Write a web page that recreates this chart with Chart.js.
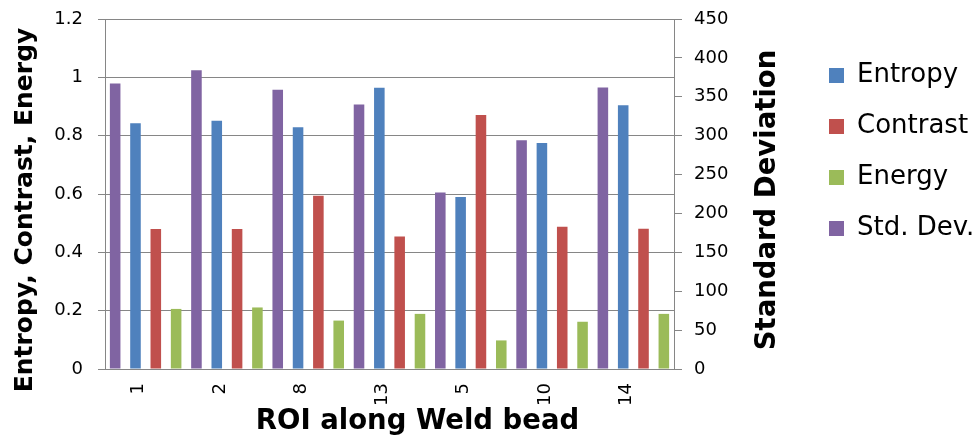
<!DOCTYPE html>
<html>
<head>
<meta charset="utf-8">
<script src="https://cdn.jsdelivr.net/npm/chart.js@4.4.1/dist/chart.umd.min.js"></script>
<style>
  html, body { margin: 0; padding: 0; background: #ffffff; }
  canvas { display: block; }
</style>
</head>
<body>
<canvas id="chart" width="978" height="439"></canvas>
<script>
// ---- data ----
const categories = ['1', '2', '8', '13', '5', '10', '14'];
const entropy  = [0.843, 0.851, 0.829, 0.964, 0.590, 0.775, 0.904];
const contrast = [0.480, 0.480, 0.594, 0.454, 0.871, 0.488, 0.481];
const energy   = [0.206, 0.211, 0.166, 0.189, 0.098, 0.162, 0.189];
const stdDev   = [367, 384, 359, 340, 227, 294, 362];
const legendOrder = ['Entropy', 'Contrast', 'Energy', 'Std. Dev.'];
const xTitle = 'ROI along Weld bead';
const yTitle = 'Entropy, Contrast, Energy';
const y2Title = 'Standard Deviation';

// ---- styles ----
const FONT = '"DejaVu Sans", Verdana, sans-serif';
const GRID = '#868686';
const COLORS = { entropy: '#4F81BD', contrast: '#C0504D', energy: '#9BBB59', std: '#8064A2' };

const axisTitlePlugin = {
  id: 'axisTitles',
  afterDraw(chart) {
    const ctx = chart.ctx;
    const area = chart.chartArea;
    ctx.save();
    ctx.fillStyle = '#000';
    ctx.textAlign = 'center';
    ctx.textBaseline = 'middle';
    // left axis title
    ctx.save();
    ctx.font = 'bold 25px ' + FONT;
    ctx.translate(25, (area.top + area.bottom) / 2 + 16);
    ctx.rotate(-Math.PI / 2);
    ctx.fillText(yTitle, 0, 0);
    ctx.restore();
    // right axis title (reads bottom to top)
    ctx.save();
    ctx.font = 'bold 27.5px ' + FONT;
    ctx.translate(area.right + 94, (area.top + area.bottom) / 2 + 6);
    ctx.rotate(-Math.PI / 2);
    ctx.fillText(y2Title, 0, 0);
    ctx.restore();
    // bottom axis title
    ctx.font = 'bold 27.5px ' + FONT;
    ctx.fillText(xTitle, (area.left + area.right) / 2 + 28, area.bottom + 53);
    ctx.restore();
  }
};

new Chart(document.getElementById('chart'), {
  type: 'bar',
  data: {
    labels: categories,
    datasets: [
      { label: 'Std. Dev.', data: stdDev,   backgroundColor: COLORS.std,      yAxisID: 'y2' },
      { label: 'Entropy',   data: entropy,  backgroundColor: COLORS.entropy,  yAxisID: 'y' },
      { label: 'Contrast',  data: contrast, backgroundColor: COLORS.contrast, yAxisID: 'y' },
      { label: 'Energy',    data: energy,   backgroundColor: COLORS.energy,   yAxisID: 'y' }
    ]
  },
  options: {
    responsive: false,
    animation: false,
    devicePixelRatio: 1,
    datasets: { bar: { categoryPercentage: 1.0, barPercentage: 0.52 } },
    layout: { padding: { top: 19, left: 0, right: 0, bottom: 0 } },
    plugins: {
      tooltip: { enabled: false },
      legend: {
        position: 'right',
        align: 'start',
        maxWidth: 174,
        title: { display: true, text: ' ', padding: 0, font: { size: 10, lineHeight: '18.5px' } },
        labels: {
          boxWidth: 15,
          boxHeight: 15,
          padding: 25,
          color: '#000',
          font: { family: FONT, size: 26 },
          sort: (a, b) => legendOrder.indexOf(a.text) - legendOrder.indexOf(b.text)
        }
      }
    },
    scales: {
      x: {
        type: 'category',
        grid: { display: true, drawOnChartArea: false, drawTicks: false, color: GRID },
        border: { display: true, color: GRID, width: 1 },
        ticks: {
          color: '#000',
          font: { family: FONT, size: 18 },
          minRotation: 90,
          maxRotation: 90,
          padding: 14,
          labelOffset: -7,
          autoSkip: false
        },
        afterFit: (s) => { s.height = 70; }
      },
      y: {
        position: 'left',
        min: 0,
        max: 1.2,
        ticks: {
          stepSize: 0.2,
          color: '#000',
          font: { family: FONT, size: 18 },
          padding: 15,
          callback: (v) => String(Number(v.toFixed(1)))
        },
        grid: { color: GRID, tickLength: 7, drawTicks: true },
        border: { color: GRID, width: 1 },
        afterFit: (s) => { s.width = 105; s.paddingTop = 0; s.paddingBottom = 0; }
      },
      y2: {
        position: 'right',
        min: 0,
        max: 450,
        ticks: {
          stepSize: 50,
          color: '#000',
          font: { family: FONT, size: 18 },
          padding: 12,
          callback: (v) => String(v)
        },
        grid: { drawOnChartArea: false, color: GRID, tickLength: 8, drawTicks: true },
        border: { color: GRID, width: 1 },
        afterFit: (s) => { s.width = 130; s.paddingTop = 0; s.paddingBottom = 0; }
      }
    }
  },
  plugins: [axisTitlePlugin]
});
</script>
</body>
</html>
